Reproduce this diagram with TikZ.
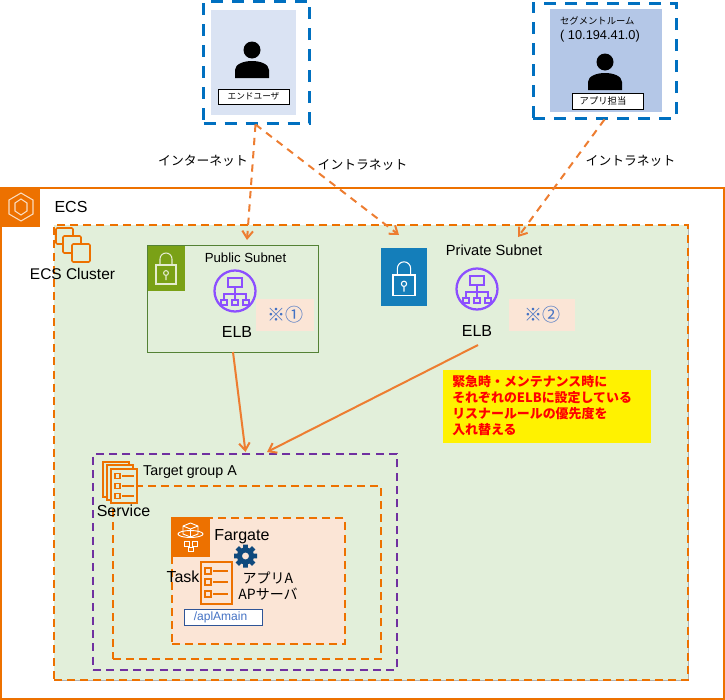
\documentclass[tikz,border=0pt]{standalone}
\usepackage{fontspec}
\setmainfont{Liberation Sans}
\newfontfamily\jpfont{Noto Sans CJK JP}
\usetikzlibrary{arrows.meta,positioning}
\definecolor{awsorange}{HTML}{ED7100}
\definecolor{linkorange}{HTML}{ED7D31}
\definecolor{dashblue}{HTML}{0070C0}
\definecolor{dashpurple}{HTML}{7030A0}
\definecolor{elbpurple}{HTML}{8C4FFF}
\definecolor{clustergreen}{HTML}{E2EFDA}
\definecolor{taskpink}{HTML}{FBE5D6}
\definecolor{noteblue}{HTML}{4472C4}
\definecolor{gearblue}{HTML}{0F4A7D}
\definecolor{endblue}{HTML}{DAE3F3}
\definecolor{segblue}{HTML}{B4C7E7}
\definecolor{subnetgreen}{HTML}{548235}
\definecolor{lockgreen}{HTML}{7AA116}
\definecolor{lockblue}{HTML}{147EBA}
\definecolor{aplborder}{HTML}{2F5597}
\tikzset{box size/.style 2 args={rectangle,inner sep=0pt,minimum width=#1*0.75pt,minimum height=#2*0.75pt},
         user frame/.style={draw=dashblue,line width=2.25pt,dash pattern=on 9pt off 6.75pt},
         user label/.style={draw=black,fill=white,line width=0.75pt},
         orange frame/.style={draw=awsorange,line width=1.6pt,dash pattern=on 6pt off 3.8pt},
         purple frame/.style={draw=dashpurple,line width=1.6pt,dash pattern=on 6pt off 4pt},
         icon tile/.style={fill=#1,draw=none},
         note tile/.style={fill=taskpink,text=noteblue,font=\jpfont\fontsize{13.5}{15}\selectfont},
         plain text/.style={font=\fontsize{#1}{#1}\selectfont,inner sep=0pt},
         plain text/.default=12,
         jp text/.style={font=\jpfont\fontsize{#1}{12}\selectfont,inner sep=0pt},
         jp text/.default=9.6,
         net link/.style={->,draw=linkorange,line width=1.5pt,dash pattern=on 5.5pt off 4.5pt},
         route link/.style={->,draw=linkorange,line width=1.5pt},
         person/.pic={
             \fill[black] (0,-12) circle (8.5);
             \fill[black] (-17,16) -- (-17,8) .. controls (-17,2) and (-8,-1) .. (0,-1)
                 .. controls (8,-1) and (17,2) .. (17,8) -- (17,16) -- cycle;
         },
         lock/.pic={
             \draw[#1,line width=0.8pt] (-10,-3) rectangle (10,16);
             \draw[#1,line width=0.8pt] (-6,-3) -- (-6,-9) arc (180:360:6) -- (6,-3);
             \draw[#1,line width=0.8pt] (0,5) circle (2.4) (0,7.4) -- (0,12);
         },
         elb/.pic={
             \draw[elbpurple,line width=1.7pt] (0,0) circle (20.5);
             \draw[elbpurple,line width=1.3pt] (-7,-13) rectangle (7,-4);
             \draw[elbpurple,line width=1.3pt] (0,-4) -- (0,3) (-11,8) -- (-11,3) -- (11,3) -- (11,8) (0,3) -- (0,8);
             \draw[elbpurple,line width=1.3pt] (-14,9) rectangle (-8,14) (-3,9) rectangle (3,14) (8,9) rectangle (14,14);
         },
         task doc/.pic={
             \draw[awsorange,line width=1.5pt] (-15.5,-21) rectangle (15.5,21);
             \foreach \rowy in {-12,-1,11}{
                 \draw[awsorange,line width=1.3pt] (-11.5,\rowy-3) rectangle (-5.5,\rowy+3);
                 \draw[awsorange,line width=1.3pt] (-3.5,\rowy) -- (11.5,\rowy);
             }
         },
}
\begin{document}
\begin{tikzpicture}[>={Straight Barb[length=5.5pt,width=8pt]},x=0.75pt,y=-0.75pt]
\useasboundingbox (0,0) rectangle (725,700);

% ECS
\node[box size={723}{511},draw=awsorange,line width=1.5pt] (ecs) at (362,443) {};
\node[box size={40}{39},icon tile=awsorange] (ecstile) at (20,207) {};
\draw[white!75!awsorange,line width=0.8pt] (21,193) -- (33,200) -- (33,214) -- (21,221) -- (9,214) -- (9,200) -- cycle;
\draw[white!75!awsorange,line width=0.8pt] (21,199) -- (27,203) -- (27,211) -- (21,215) -- (15,211) -- (15,203) -- cycle;
\node[plain text=12] (ecstext) at (71,207) {ECS};

% cluster
\node[box size={634}{455},fill=clustergreen,preaction={draw=black!30,line width=0.75pt,solid},orange frame] (cluster) at (371,452.5) {};
\draw[awsorange,line width=1.2pt,rounded corners=1pt] (56,228) rectangle (73,244);
\draw[awsorange,fill=clustergreen,line width=1.2pt,rounded corners=1pt] (63,236) rectangle (81,253);
\draw[awsorange,fill=clustergreen,line width=1.2pt,rounded corners=1pt] (72,244) rectangle (90,262);
\node[plain text=11.6] (clustertext) at (72.5,274) {ECS Cluster};

% users
\node[box size={106}{122},user frame] (endframe) at (256.5,62) {};
\node[box size={85}{105},fill=endblue] (endbg) at (253.5,62.5) {};
\pic at (252,62) {person};
\node[box size={71}{15},user label,jp text=6.5] (endlabel) at (253.5,96.5) {エンドユーザ};

\node[box size={143}{115},user frame] (segframe) at (604.5,60.5) {};
\node[box size={112}{103},fill=segblue] (segbg) at (606,60.5) {};
\node[jp text=7,align=left] (segtext) at (600,29.5) {セグメントルーム\\[-1pt]\fontsize{9.6}{12}\selectfont\rmfamily ( 10.194.41.0)};
\pic at (605,74) {person};
\node[box size={71}{16},user label,jp text=7] (seglabel) at (607.5,101) {\hspace*{-6.75pt}アプリ担当};

% subnets
\node[box size={171}{106.5},draw=subnetgreen,line width=0.75pt] (pubsubnet) at (233,298.75) {};
\node[box size={37}{45},icon tile=lockgreen] (pubtile) at (166.5,268.5) {};
\pic at (166,268) {lock={white!80!lockgreen}};
\node[plain text=9.9] (pubtext) at (245.5,258) {Public Subnet};
\pic at (235,291) {elb};
\node[plain text=12] (pubelb) at (237,332) {ELB};
\node[box size={58}{32},note tile] (pubnote) at (285,315) {\raisebox{1.5pt}{※①}};

\node[box size={46}{58},icon tile=lockblue] (prvtile) at (404,277) {};
\pic[scale=1.1] at (404,278.3) {lock=white};
\node[plain text=11] (prvtext) at (494,250) {Private Subnet};
\pic at (477,289) {elb};
\node[plain text=12] (prvelb) at (477,331) {ELB};
\node[box size={66}{32},note tile] (prvnote) at (542,315) {\raisebox{1pt}{※②}};

% note
\node[box size={208}{73},fill=yellow] (notebg) at (547,406.5) {};
\node[font=\jpfont\bfseries\fontsize{9.7}{12}\selectfont,text=red,align=left,anchor=west,inner sep=0pt] (notetext) at (452,405.5)
    {緊急時・メンテナンス時に\\それぞれのELBに設定している\\リスナールールの優先度を\\入れ替える};

% target group
\node[box size={304}{216},purple frame] (tgroup) at (245,562) {};
\node[plain text=10.7] (tgrouptext) at (190,472) {Target group A};
\node[box size={268}{173},orange frame] (service) at (247,572.5) {};
\draw[awsorange,line width=1.4pt] (103,462) rectangle (129,497);
\draw[awsorange,fill=clustergreen,line width=1.4pt] (107,465) rectangle (133,500);
\draw[awsorange,fill=clustergreen,line width=1.4pt] (111,469) rectangle (137,503);
\foreach \rowy in {476,486,496}{
    \draw[awsorange,line width=1.2pt] (115,\rowy-2.5) rectangle (120,\rowy+2.5);
    \draw[awsorange,line width=1.2pt] (122,\rowy) -- (134,\rowy);
}
\node[plain text=12] (servicetext) at (123.5,511) {Service};

\node[box size={173}{126},fill=taskpink,orange frame] (task) at (258.5,581) {};
\node[box size={39}{40},icon tile=awsorange] (fargatetile) at (190.5,537) {};
\draw[white,line width=0.7pt] (190.5,523) -- (198,526) -- (198,534) -- (190.5,537) -- (183,534) -- (183,526) -- cycle (183,526) -- (190.5,529) -- (198,526) (190.5,529) -- (190.5,537);
\draw[white,line width=0.7pt] (190.5,534) ellipse (12.5 and 3.5);
\draw[white,line width=0.7pt] (184,541) rectangle (189,546) (192,541) rectangle (197,546) (188,547) rectangle (193,551);
\node[plain text=12,anchor=west] (fargatetext) at (214,537) {Fargate};
\foreach \toothangle in {0,45,...,315}{
    \fill[gearblue] (245.5,556) ++(\toothangle:7) -- ++(\toothangle+90:2.4) -- ++(\toothangle:4.5) -- ++(\toothangle-90:4.8) -- ++(\toothangle+180:4.5) -- cycle;
}
\node[circle,minimum size=9pt,inner sep=0pt,draw=gearblue,line width=3.8pt,fill=taskpink] (gear) at (245.5,556) {};
\node[plain text=12] (tasktext) at (183,577) {Task};
\pic at (216.5,583) {task doc};
\node[jp text=10.5,align=center] (apptext) at (268,586) {アプリA\\[0pt]APサーバ};
\node[box size={78}{16},draw=aplborder,line width=0.75pt,fill=white,text=noteblue,plain text=9] (apl) at (223,617) {\hspace*{-3.75pt}/aplAmain};

% links
\coordinate (pubin) at (247,240);
\coordinate (prvin) at (399,235);
\coordinate (segin) at (518,237);
\coordinate (tgin) at (245.5,452);
\coordinate (tgright) at (267,452);
\coordinate (pubout) at (233,352);
\coordinate (prvout) at (478,345);
\draw[net link] (endframe.south) ++(-1,0) -- (pubin);
\draw[net link] (endframe.south) ++(-1,0) -- (prvin);
\draw[net link] (segframe.south) -- (segin);
\draw[route link] (pubout) -- (tgin);
\draw[route link] (prvout) -- (tgright);
\node[jp text] (internet) at (203,161) {インターネット};
\node[jp text] (intraleft) at (362.5,165) {イントラネット};
\node[jp text] (intraright) at (630.5,161) {イントラネット};

\end{tikzpicture}
\end{document}
